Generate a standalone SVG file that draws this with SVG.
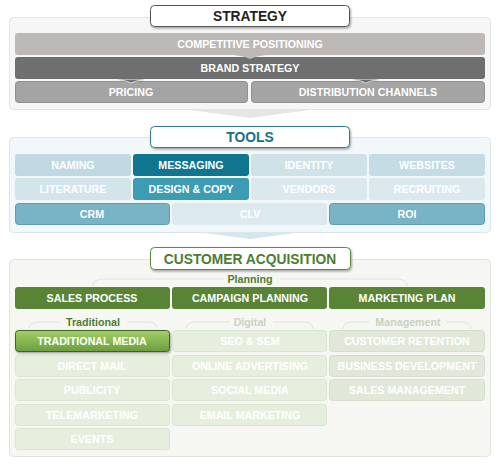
<svg xmlns="http://www.w3.org/2000/svg" width="500" height="466" viewBox="0 0 500 466">
<defs>
<style>
text{font-family:"Liberation Sans",Arial,sans-serif;font-weight:bold;text-anchor:middle}
.bt{font-size:10.7px;fill:#fff}
.tt{font-size:13.8px}
.lb{font-size:10.7px}
.arc{fill:none;stroke:#e2e2de;stroke-width:1}
</style>
<linearGradient id="gTM" x1="0" y1="0" x2="0" y2="1">
<stop offset="0" stop-color="#a3d06a"/>
<stop offset="1" stop-color="#6b9e3d"/>
</linearGradient>
<filter id="sh" x="-10%" y="-30%" width="120%" height="170%">
<feDropShadow dx="1" dy="1.5" stdDeviation="1" flood-color="#000" flood-opacity="0.35"/>
</filter>
</defs>

<!-- STRATEGY -->
<g id="strategy-panel">
<rect x="9.5" y="17.5" width="481" height="92" rx="4" fill="#f6f6f6" stroke="#e4e4e4"/>
<path d="M190,110 L310,110 L250,118 Z" fill="#e6e6e6"/>
</g>
<g id="strategy-title">
<rect x="150.5" y="5.5" width="199" height="21" rx="4" fill="#fff" stroke="#555" filter="url(#sh)"/>
<text x="250" y="21" class="tt" fill="#222">STRATEGY</text>
</g>
<g id="competitive-positioning">
<rect x="15" y="33" width="470" height="22" rx="3" fill="#bcb9b7"/>
<text x="250" y="48" class="bt">COMPETITIVE POSITIONING</text>
</g>
<g id="brand-strategy">
<rect x="15" y="57" width="470" height="22" rx="3" fill="#6f6f6f"/>
<text x="250" y="72" class="bt">BRAND STRATEGY</text>
</g>
<g id="pricing">
<rect x="15.5" y="81.5" width="232" height="21" rx="3" fill="#a4a4a4" stroke="#909090"/>
<text x="131" y="96" class="bt">PRICING</text>
</g>
<g id="distribution-channels">
<rect x="251.5" y="81.5" width="233" height="21" rx="3" fill="#a4a4a4" stroke="#909090"/>
<text x="368" y="96" class="bt">DISTRIBUTION CHANNELS</text>
</g>

<!-- TOOLS -->
<g id="tools-panel">
<rect x="9.5" y="137.5" width="481" height="95" rx="4" fill="#f2f8fa" stroke="#d9e7ec"/>
<path d="M205,233 L295,233 L250,239 Z" fill="#d5e6ec"/>
</g>
<g id="tools-title">
<rect x="150.5" y="126.5" width="199" height="21" rx="4" fill="#fff" stroke="#2f7d91" filter="url(#sh)"/>
<text x="250" y="142" class="tt" fill="#17708a">TOOLS</text>
</g>
<g id="naming"><rect x="15" y="154" width="116" height="22" rx="3" fill="#bfd8e1"/><text x="73" y="169" class="bt">NAMING</text></g>
<g id="messaging"><rect x="133" y="154" width="116" height="22" rx="3" fill="#107690"/><text x="191" y="169" class="bt">MESSAGING</text></g>
<g id="identity"><rect x="251" y="154" width="116" height="22" rx="3" fill="#cfe2e8"/><text x="309" y="169" class="bt">IDENTITY</text></g>
<g id="websites"><rect x="369" y="154" width="116" height="22" rx="3" fill="#c4dce4"/><text x="427" y="169" class="bt">WEBSITES</text></g>
<g id="literature"><rect x="15" y="178" width="116" height="22" rx="3" fill="#d3e5eb"/><text x="73" y="193" class="bt">LITERATURE</text></g>
<g id="design-copy"><rect x="133" y="178" width="116" height="22" rx="3" fill="#3b9cb3"/><text x="191" y="193" class="bt">DESIGN &amp; COPY</text></g>
<g id="vendors"><rect x="251" y="178" width="116" height="22" rx="3" fill="#dbe9ee"/><text x="309" y="193" class="bt">VENDORS</text></g>
<g id="recruiting"><rect x="369" y="178" width="116" height="22" rx="3" fill="#dbe9ee"/><text x="427" y="193" class="bt">RECRUITING</text></g>
<g id="crm"><rect x="15.5" y="203.5" width="154" height="21" rx="3" fill="#78b4c6" stroke="#5d9fb2"/><text x="92" y="218" class="bt">CRM</text></g>
<g id="clv"><rect x="172" y="203" width="155" height="22" rx="3" fill="#dce9ee"/><text x="250" y="218" class="bt">CLV</text></g>
<g id="roi"><rect x="329.5" y="203.5" width="155" height="21" rx="3" fill="#78b4c6" stroke="#5d9fb2"/><text x="407" y="218" class="bt">ROI</text></g>

<!-- CUSTOMER ACQUISITION -->
<g id="ca-panel">
<rect x="9.5" y="259.5" width="481" height="197" rx="4" fill="#f6f7f3" stroke="#e2e5dc"/>
</g>
<g id="ca-title">
<rect x="150.5" y="247.5" width="200" height="22" rx="4" fill="#fff" stroke="#5b8a3c" filter="url(#sh)"/>
<text x="250" y="263.5" class="tt" fill="#4d7d2f">CUSTOMER ACQUISITION</text>
</g>

<g id="connectors">
<path class="arc" d="M93,286 Q93,279 103,279 L224,279"/>
<path class="arc" d="M280,279 L397,279 Q407,279 407,286"/>
<path class="arc" d="M29,329 Q29,322 39,322 L60,322"/>
<path class="arc" d="M127,322 L147,322 Q157,322 157,329"/>
<path class="arc" d="M186,329 Q186,322 196,322 L230,322"/>
<path class="arc" d="M273,322 L303,322 Q313,322 313,329"/>
<path class="arc" d="M343,329 Q343,322 353,322 L370,322"/>
<path class="arc" d="M446,322 L461,322 Q471,322 471,329"/>
<path d="M234,55 Q244,56 250,59 Q256,56 266,55 Z" fill="#bcb9b7"/>
<path d="M118,79.5 Q126,80.5 131,83 Q136,80.5 144,79.5" fill="#6f6f6f" stroke="#d4d4d4" stroke-width="1"/>
<path d="M353,79.5 Q361,80.5 366,83 Q371,80.5 379,79.5" fill="#6f6f6f" stroke="#d4d4d4" stroke-width="1"/>
</g>

<g id="label-planning"><text x="250" y="283" class="lb" fill="#4d7d2f">Planning</text></g>
<g id="label-traditional"><text x="93" y="326" class="lb" fill="#4d7d2f">Traditional</text></g>
<g id="label-digital"><text x="250" y="326" class="lb" fill="#c9d3c0">Digital</text></g>
<g id="label-management"><text x="408" y="326" class="lb" fill="#c9d3c0">Management</text></g>

<g id="sales-process"><rect x="15" y="287" width="155" height="22" rx="3" fill="#598335"/><text x="92" y="302" class="bt">SALES PROCESS</text></g>
<g id="campaign-planning"><rect x="172" y="287" width="155" height="22" rx="3" fill="#598335"/><text x="250" y="302" class="bt">CAMPAIGN PLANNING</text></g>
<g id="marketing-plan"><rect x="329" y="287" width="156" height="22" rx="3" fill="#598335"/><text x="407" y="302" class="bt">MARKETING PLAN</text></g>

<g id="traditional-media"><rect x="15.5" y="330.5" width="154" height="21" rx="3" fill="url(#gTM)" stroke="#3d6522" filter="url(#sh)"/><text x="92" y="345" class="bt">TRADITIONAL MEDIA</text></g>
<g id="direct-mail"><rect x="15.5" y="355.5" width="154" height="21" rx="3" fill="#e6efde" stroke="#dbe5d1"/><text x="92" y="370" class="bt">DIRECT MAIL</text></g>
<g id="publicity"><rect x="15.5" y="379.5" width="154" height="21" rx="3" fill="#e6efde" stroke="#dbe5d1"/><text x="92" y="394" class="bt">PUBLICITY</text></g>
<g id="telemarketing"><rect x="15.5" y="404.5" width="154" height="21" rx="3" fill="#e6efde" stroke="#dbe5d1"/><text x="92" y="419" class="bt">TELEMARKETING</text></g>
<g id="events"><rect x="15.5" y="428.5" width="154" height="21" rx="3" fill="#e6efde" stroke="#dbe5d1"/><text x="92" y="443" class="bt">EVENTS</text></g>

<g id="seo-sem"><rect x="172.5" y="330.5" width="154" height="21" rx="3" fill="#e6efde" stroke="#dbe5d1"/><text x="250" y="345" class="bt">SEO &amp; SEM</text></g>
<g id="online-advertising"><rect x="172.5" y="355.5" width="154" height="21" rx="3" fill="#e6efde" stroke="#dbe5d1"/><text x="250" y="370" class="bt">ONLINE ADVERTISING</text></g>
<g id="social-media"><rect x="172.5" y="379.5" width="154" height="21" rx="3" fill="#e6efde" stroke="#dbe5d1"/><text x="250" y="394" class="bt">SOCIAL MEDIA</text></g>
<g id="email-marketing"><rect x="172.5" y="404.5" width="154" height="21" rx="3" fill="#e6efde" stroke="#dbe5d1"/><text x="250" y="419" class="bt">EMAIL MARKETING</text></g>

<g id="customer-retention"><rect x="329.5" y="330.5" width="155" height="21" rx="3" fill="#e1e8d9" stroke="#d6dfcd"/><text x="407" y="345" class="bt">CUSTOMER RETENTION</text></g>
<g id="business-development"><rect x="329.5" y="355.5" width="155" height="21" rx="3" fill="#e1e8d9" stroke="#d6dfcd"/><text x="407" y="370" class="bt">BUSINESS DEVELOPMENT</text></g>
<g id="sales-management"><rect x="329.5" y="379.5" width="155" height="21" rx="3" fill="#e1e8d9" stroke="#d6dfcd"/><text x="407" y="394" class="bt">SALES MANAGEMENT</text></g>
</svg>
